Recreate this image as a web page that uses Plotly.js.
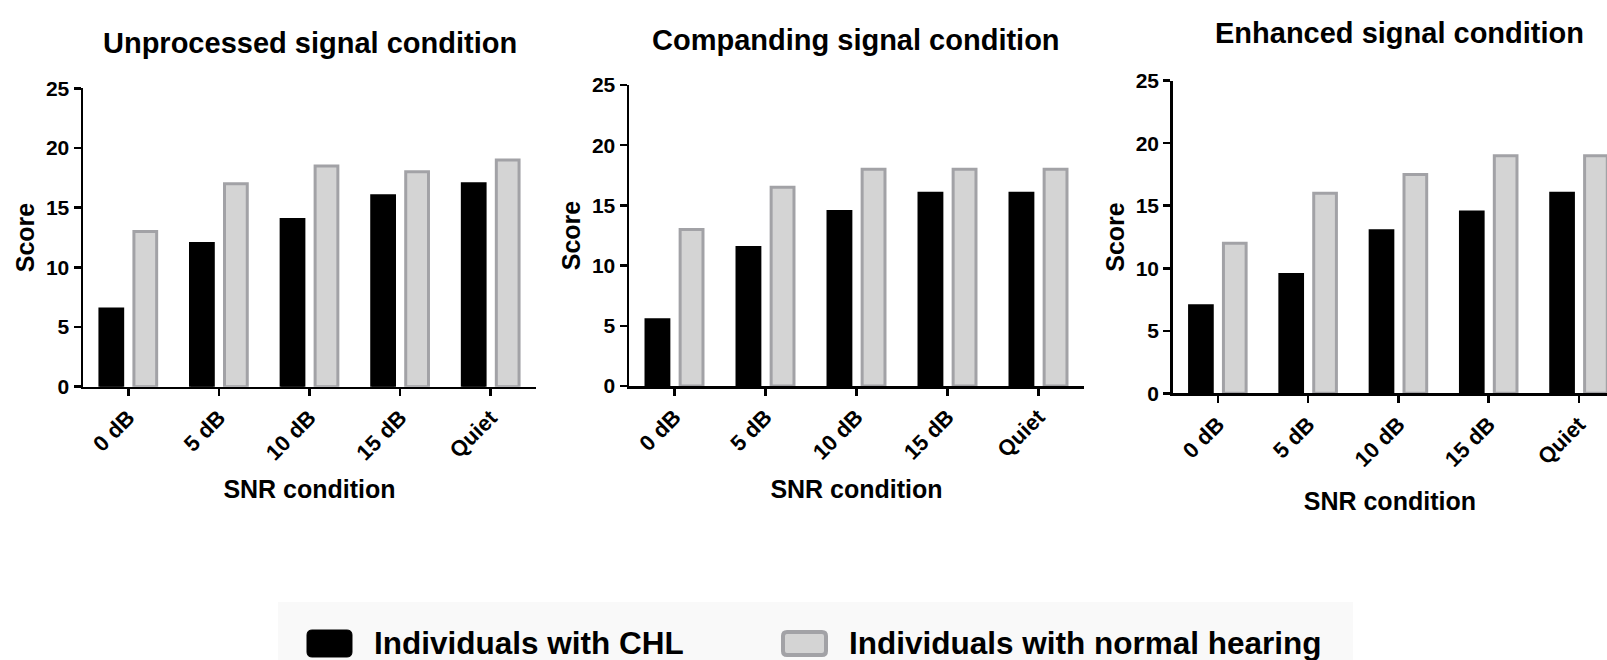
<!DOCTYPE html>
<html><head><meta charset="utf-8">
<script src="https://cdn.plot.ly/plotly-3.0.1.min.js"></script>
<style>html,body{margin:0;padding:0;background:#fff}</style>
</head><body><div id="chart" style="width:1607px;height:660px"></div>
<script>
// ---- data ----
const categories = ['0 dB', '5 dB', '10 dB', '15 dB', 'Quiet'];
const seriesNames = ['Individuals with CHL', 'Individuals with normal hearing'];
const panelTitles = ['Unprocessed signal condition', 'Companding signal condition', 'Enhanced signal condition'];
const unprocessedCHL = [6.5, 12, 14, 16, 17];
const unprocessedNH  = [13, 17, 18.5, 18, 19];
const compandingCHL  = [5.5, 11.5, 14.5, 16, 16];
const compandingNH   = [13, 16.5, 18, 18, 18];
const enhancedCHL    = [7, 9.5, 13, 14.5, 16];
const enhancedNH     = [12, 16, 17.5, 19, 19];
const yTickVals = [0, 5, 10, 15, 20, 25];
const xTitle = 'SNR condition';
const yTitle = 'Score';

// ---- layout helpers ----
const W = 1607, H = 660;
const fx = p => p / W;
const fy = p => 1 - p / H;
const FONT = 'Arial, "Liberation Sans", Helvetica, sans-serif';

const panels = [
  {chl: unprocessedCHL, nh: unprocessedNH, x0: 83,    x1: 536,  yTop: 88.3, yBot: 386.7, xr: [-0.5, 4.5],  tx: 309.5, ty: 43.3, so: 16},
  {chl: compandingCHL,  nh: compandingNH,  x0: 629,   x1: 1084, yTop: 85,   yBot: 386,   xr: [-0.5, 4.5],  tx: 856,   ty: 40,   so: 17},
  {chl: enhancedCHL,    nh: enhancedNH,    x0: 1172.7,x1: 1607, yTop: 80.7, yBot: 393.3, xr: [-0.5, 4.31], tx: 1399,  ty: 33.3, so: 22}
];

const data = [];
const layout = {
  width: W, height: H, autosize: false,
  margin: {l: 0, r: 0, t: 0, b: 0},
  paper_bgcolor: '#ffffff', plot_bgcolor: 'rgba(0,0,0,0)',
  barmode: 'group', bargap: 0.25, bargroupgap: 0.33,
  showlegend: false,
  font: {family: FONT, color: '#000'},
  annotations: [], shapes: []
};

panels.forEach((p, i) => {
  const s = i === 0 ? '' : String(i + 1);
  data.push({
    type: 'bar', name: seriesNames[0], x: categories, y: p.chl,
    xaxis: 'x' + s, yaxis: 'y' + s,
    marker: {color: '#000000', line: {color: '#000000', width: 3}},
    showlegend: false, hoverinfo: 'x+y+name'
  });
  data.push({
    type: 'bar', name: seriesNames[1], x: categories, y: p.nh,
    xaxis: 'x' + s, yaxis: 'y' + s,
    marker: {color: '#d4d4d4', line: {color: '#a2a2a6', width: 3}},
    showlegend: false, hoverinfo: 'x+y+name'
  });
  layout['xaxis' + s] = {
    domain: [fx(p.x0), fx(p.x1)], anchor: 'y' + s,
    type: 'category', range: p.xr,
    showline: true, linecolor: '#000', linewidth: 2.5,
    ticks: 'outside', ticklen: 7, tickwidth: 2.5, tickcolor: '#000',
    tickangle: -45, tickfont: {family: FONT, size: 22, color: '#000', weight: 'bold'},
    showgrid: false, zeroline: false,
    title: {text: '<b>' + xTitle + '</b>', font: {family: FONT, size: 25, color: '#000'}, standoff: p.so}
  };
  layout['yaxis' + s] = {
    domain: [fy(p.yBot), fy(p.yTop)], anchor: 'x' + s,
    range: [0, 25], tickvals: yTickVals,
    showline: true, linecolor: '#000', linewidth: 2.5,
    ticks: 'outside', ticklen: 7, tickwidth: 2.5, tickcolor: '#000',
    tickfont: {family: FONT, size: 21, color: '#000', weight: 'bold'},
    showgrid: false, zeroline: false,
    title: {text: '<b>' + yTitle + '</b>', font: {family: FONT, size: 25, color: '#000'}, standoff: 4}
  };
  layout.annotations.push({
    xref: 'paper', yref: 'paper', x: fx(p.tx), y: fy(p.ty),
    xanchor: 'center', yanchor: 'middle', showarrow: false,
    text: '<b>' + panelTitles[i] + '</b>',
    font: {family: FONT, size: 29, color: '#000'}
  });
});

// ---- legend (drawn) ----
function roundRect(x0, y0, x1, y1, r) {
  const X = v => fx(v).toFixed(5), Y = v => fy(v).toFixed(5);
  return 'M' + X(x0 + r) + ',' + Y(y0) +
    ' L' + X(x1 - r) + ',' + Y(y0) + ' Q' + X(x1) + ',' + Y(y0) + ' ' + X(x1) + ',' + Y(y0 + r) +
    ' L' + X(x1) + ',' + Y(y1 - r) + ' Q' + X(x1) + ',' + Y(y1) + ' ' + X(x1 - r) + ',' + Y(y1) +
    ' L' + X(x0 + r) + ',' + Y(y1) + ' Q' + X(x0) + ',' + Y(y1) + ' ' + X(x0) + ',' + Y(y1 - r) +
    ' L' + X(x0) + ',' + Y(y0 + r) + ' Q' + X(x0) + ',' + Y(y0) + ' ' + X(x0 + r) + ',' + Y(y0) + ' Z';
}
layout.shapes.push({type: 'rect', xref: 'paper', yref: 'paper',
  x0: fx(278), x1: fx(1353), y0: fy(660), y1: fy(602),
  fillcolor: '#f9f9f9', line: {width: 0}, layer: 'below'});
layout.shapes.push({type: 'path', xref: 'paper', yref: 'paper',
  path: roundRect(307, 630, 352, 657, 5), fillcolor: '#000', line: {color: '#000', width: 1}});
layout.shapes.push({type: 'path', xref: 'paper', yref: 'paper',
  path: roundRect(783, 632, 826, 655, 4), fillcolor: '#d4d4d4', line: {color: '#a2a2a6', width: 4}});
layout.annotations.push({xref: 'paper', yref: 'paper', x: fx(372), y: fy(643),
  xanchor: 'left', yanchor: 'middle', showarrow: false,
  text: '<b>' + seriesNames[0] + '</b>', font: {family: FONT, size: 31.5, color: '#000'}});
layout.annotations.push({xref: 'paper', yref: 'paper', x: fx(847), y: fy(643),
  xanchor: 'left', yanchor: 'middle', showarrow: false,
  text: '<b>' + seriesNames[1] + '</b>', font: {family: FONT, size: 31.5, color: '#000'}});

Plotly.newPlot('chart', data, layout, {displayModeBar: false, staticPlot: true});
</script>
</body></html>
